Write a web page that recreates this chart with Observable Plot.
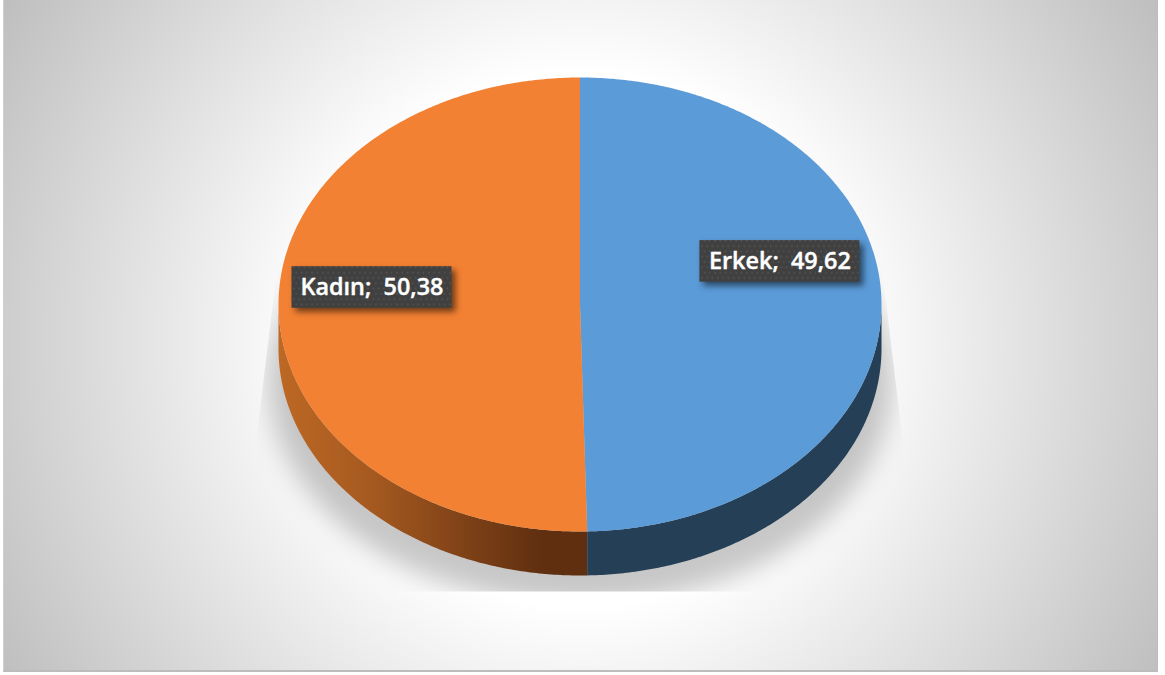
<!DOCTYPE html>
<html>
<head>
<meta charset="utf-8">
<script src="https://cdn.jsdelivr.net/npm/d3@7"></script>
<script src="https://cdn.jsdelivr.net/npm/@observablehq/plot@0.6"></script>
<style>
  html, body { margin: 0; padding: 0; background: #fff; }
  #wrap { position: relative; width: 1165px; height: 675px; overflow: hidden; }
  #bg { position: absolute; left: 3px; top: 0; width: 1155px; height: 672px; box-sizing: border-box;
        border-left: 1px solid #d0d0d0; border-right: 1px solid #bcbcbc; border-bottom: 2px solid #bcbcbc;
        background: radial-gradient(circle 665px at 576px 340px, #ffffff 0%, #ffffff 40%, #bfbfbf 100%); }
  #chart { position: absolute; left: 0; top: 0; }
  #chart svg { background: none; display: block; }
  #chart text { white-space: pre; }
</style>
</head>
<body>
<div id="wrap"><div id="bg"></div><div id="chart"></div></div>
<script>
const categories = ["Erkek", "Kadın"];
const values = [49.62, 50.38];
const colors = ["#5b9bd8", "#f38133"];
const labelTexts = ["Erkek;  49,62", "Kadın;  50,38"];
const labelX = [0.663, -0.69];
const labelY = [0.19, 0.075];
const shadowClip = [[-1.0, 0.194], [-1.072, -0.6], [-1.072, -1.266], [1.072, -1.266], [1.072, -0.6], [1.0, 0.194]];

const depth = 44 / 227;
const TAU = Math.PI * 2;
const total = d3.sum(values);
const cum = d3.cumsum(values);
const startA = values.map((v, i) => (cum[i] - v) / total * TAU);
const endA = values.map((v, i) => cum[i] / total * TAU);
const pt = (a, dy = 0) => ({x: Math.sin(a), y: Math.cos(a) - dy});
const arc = (a0, a1, dy = 0) => {
  const n = Math.max(2, Math.ceil(Math.abs(a1 - a0) / 0.01));
  return d3.range(n + 1).map(i => pt(a0 + (a1 - a0) * i / n, dy));
};
const topSlices = categories.flatMap((c, i) =>
  [{x: 0, y: 0}, ...arc(startA[i], endA[i])].map(p => ({...p, slice: c})));
const HALF = Math.PI / 2;
const wall = (a0, a1) => [...arc(a0, a1), ...arc(a1, a0, depth)];
const wallErkek = wall(HALF, endA[0]);
const wallKadin = wall(endA[0], 3 * HALF);
const shadowEllipse = arc(0, TAU).map(p => ({x: p.x * 1.03, y: p.y * 0.99 - 0.335}));
const labels = categories.map((c, i) => ({c, text: labelTexts[i], x: labelX[i], y: labelY[i]}));
const halfW = 80 / 301.5, halfH = 20.8 / 227;

const NS = "http://www.w3.org/2000/svg";
function defs(_, scales) {
  const d = d3.create("svg:defs");
  const g = d.append("linearGradient").attr("id", "wallK").attr("gradientUnits", "userSpaceOnUse")
    .attr("x1", scales.x(-1)).attr("x2", scales.x(0)).attr("y1", 0).attr("y2", 0);
  [[0, "#bd6824"], [0.3, "#a65a20"], [0.65, "#7b3f16"], [0.88, "#5f2f10"], [1, "#5f2f10"]].forEach(([o, c]) =>
    g.append("stop").attr("offset", o).attr("stop-color", c));
  const p = d.append("pattern").attr("id", "dots").attr("patternUnits", "userSpaceOnUse")
    .attr("width", 10.6).attr("height", 10.6);
  p.append("rect").attr("width", 10.6).attr("height", 10.6).attr("fill", "#404040");
  [[1.5, 1.5], [6.8, 1.5], [4.1, 6.8], [9.4, 6.8]].forEach(([x, y]) =>
    p.append("rect").attr("x", x).attr("y", y).attr("width", 1.6).attr("height", 1.6).attr("fill", "#565656"));
  const cp = d.append("clipPath").attr("id", "shadowClip");
  cp.append("polygon").attr("points", shadowClip.map(([x, y]) => [scales.x(x), scales.y(y)].join(",")).join(" "));
  return d.node();
}

const chart = Plot.plot({
  width: 1165, height: 675,
  margin: 0,
  style: {background: "none"},
  x: {domain: [-1, 1], range: [278, 881], axis: null},
  y: {domain: [1, -1], range: [77, 531], axis: null},
  color: {domain: categories, range: colors},
  marks: [
    defs,
    Plot.line(shadowEllipse, {
      x: "x", y: "y", fill: "#000", stroke: "none", fillOpacity: 0.22, imageFilter: "blur(13px)",
      render(i, s, v, d, c, next) { const g = next(i, s, v, d, c); 
        const w = document.createElementNS(NS, "g"); w.setAttribute("clip-path", "url(#shadowClip)"); w.appendChild(g); return w; }
    }),
    Plot.line(wallKadin, {x: "x", y: "y", fill: "url(#wallK)", stroke: "none"}),
    Plot.line(wallErkek, {x: "x", y: "y", fill: "#243f56", stroke: "none"}),
    Plot.line(topSlices, {x: "x", y: "y", fill: "slice", stroke: "none"}),
    Plot.rect(labels, {
      x1: d => d.x - halfW, x2: d => d.x + halfW, y1: d => d.y - halfH, y2: d => d.y + halfH,
      fill: "url(#dots)", imageFilter: "drop-shadow(4px 4px 3px rgba(0,0,0,0.55))"
    }),
    Plot.text(labels, {
      x: "x", y: "y", text: "text", fill: "#fff", stroke: "#fff", strokeWidth: 0.4, fontSize: 23.4, fontWeight: 600,
      fontFamily: "'Open Sans', 'Noto Sans', sans-serif"
    })
  ]
});
document.getElementById("chart").appendChild(chart);
</script>
</body>
</html>
